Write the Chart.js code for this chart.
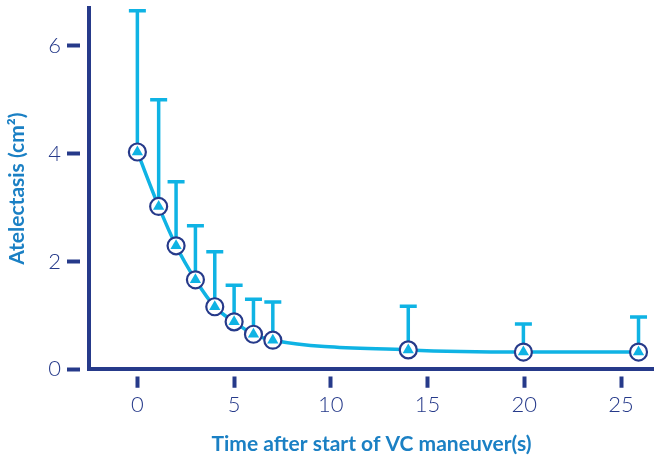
<!DOCTYPE html>
<html>
<head>
<meta charset="utf-8">
<script src="https://cdn.jsdelivr.net/npm/chart.js@4"></script>
<style>
  html, body { margin: 0; padding: 0; background: #fff; overflow: hidden; }
  #wrap { width: 654px; height: 457px; }
  canvas { display: block; }
</style>
</head>
<body>
<div id="wrap"><canvas id="myChart"></canvas></div>
<script>
// data
const times = [0, 1.1, 2, 3, 4, 5, 6, 7, 14, 19.95, 25.9]
const atelectasis = [4.03, 3.02, 2.29, 1.66, 1.16, 0.88, 0.65, 0.54, 0.36, 0.32, 0.32]
const upperError = [6.65, 5.0, 3.48, 2.66, 2.18, 1.56, 1.30, 1.25, 1.17, 0.84, 0.97]
const xTicks = [0, 5, 10, 15, 20, 25]
const yTicks = [0, 2, 4, 6]

const navy = "#263a8a"
const lightBlue = "#0fb3e4"
const titleBlue = "#1b80c4"

const points = times.map((t, i) => ({x: t, y: atelectasis[i]}))

// error bars, drawn under the line and markers
const errorBars = {
    id: "errorBars",
    beforeDatasetsDraw(chart) {
        const {ctx, scales: {x, y}} = chart
        ctx.save()
        ctx.strokeStyle = lightBlue
        ctx.lineWidth = 3.5
        ctx.lineCap = "butt"
        times.forEach((t, i) => {
            const px = x.getPixelForValue(t)
            const y1 = y.getPixelForValue(atelectasis[i])
            const y2 = y.getPixelForValue(upperError[i])
            ctx.beginPath()
            ctx.moveTo(px, y1)
            ctx.lineTo(px, y2 - 1.5)
            ctx.moveTo(px - 8.5, y2)
            ctx.lineTo(px + 8.5, y2)
            ctx.stroke()
        })
        ctx.restore()
    }
}

const tickFont = {family: "Lato", size: 22, weight: "300"}
const titleFont = {family: "Lato", size: 21, weight: "bold"}

const config = {
    type: "scatter",
    data: {
        datasets: [
            {
                label: "triangles",
                data: points,
                showLine: false,
                pointStyle: "triangle",
                pointRadius: 6.5,
                pointBackgroundColor: lightBlue,
                pointBorderWidth: 0,
                order: 0
            },
            {
                label: "Atelectasis",
                data: points,
                showLine: true,
                borderColor: lightBlue,
                borderWidth: 3.5,
                cubicInterpolationMode: "monotone",
                pointStyle: "circle",
                pointRadius: 8.5,
                pointBackgroundColor: "#ffffff",
                pointBorderColor: navy,
                pointBorderWidth: 2.2,
                order: 1
            }
        ]
    },
    options: {
        responsive: true,
        maintainAspectRatio: false,
        animation: false,
        layout: {autoPadding: false, padding: {top: 8, right: 0, bottom: 0, left: 0}},
        plugins: {
            legend: {display: false},
            tooltip: {enabled: false}
        },
        scales: {
            x: {
                type: "linear",
                min: -2.5,
                max: 26.7,
                afterBuildTicks: (scale) => { scale.ticks = xTicks.map(v => ({value: v})) },
                afterFit: (scale) => {
                    scale.height = 457 - 369.3
                    scale.paddingLeft = 0
                    scale.paddingRight = 0
                },
                border: {display: true, color: navy, width: 4},
                grid: {
                    drawOnChartArea: false,
                    drawTicks: true,
                    tickLength: 19,
                    tickWidth: 4,
                    tickColor: navy,
                    tickBorderDash: [0, 5.4, 11.3, 100]
                },
                ticks: {color: navy, font: tickFont, padding: 3},
                title: {
                    display: true,
                    text: "Time after start of VC maneuver(s)",
                    color: titleBlue,
                    font: titleFont,
                    padding: {top: 0, bottom: 0}
                }
            },
            y: {
                type: "linear",
                min: 0,
                max: 6.7,
                afterBuildTicks: (scale) => { scale.ticks = yTicks.map(v => ({value: v})) },
                afterFit: (scale) => {
                    scale.width = 89
                    scale.paddingTop = 0
                    scale.paddingBottom = 0
                },
                border: {display: true, color: navy, width: 4},
                grid: {
                    drawOnChartArea: false,
                    drawTicks: true,
                    tickLength: 22,
                    tickWidth: 4,
                    tickColor: navy,
                    tickBorderDash: [13, 100]
                },
                ticks: {color: navy, font: tickFont, padding: 6},
                title: {
                    display: true,
                    text: "Atelectasis (cm²)",
                    color: titleBlue,
                    font: titleFont,
                    padding: {top: 5, bottom: 0}
                }
            }
        }
    },
    plugins: [errorBars]
}

const myChart = new Chart(document.getElementById("myChart"), config)
</script>
</body>
</html>
